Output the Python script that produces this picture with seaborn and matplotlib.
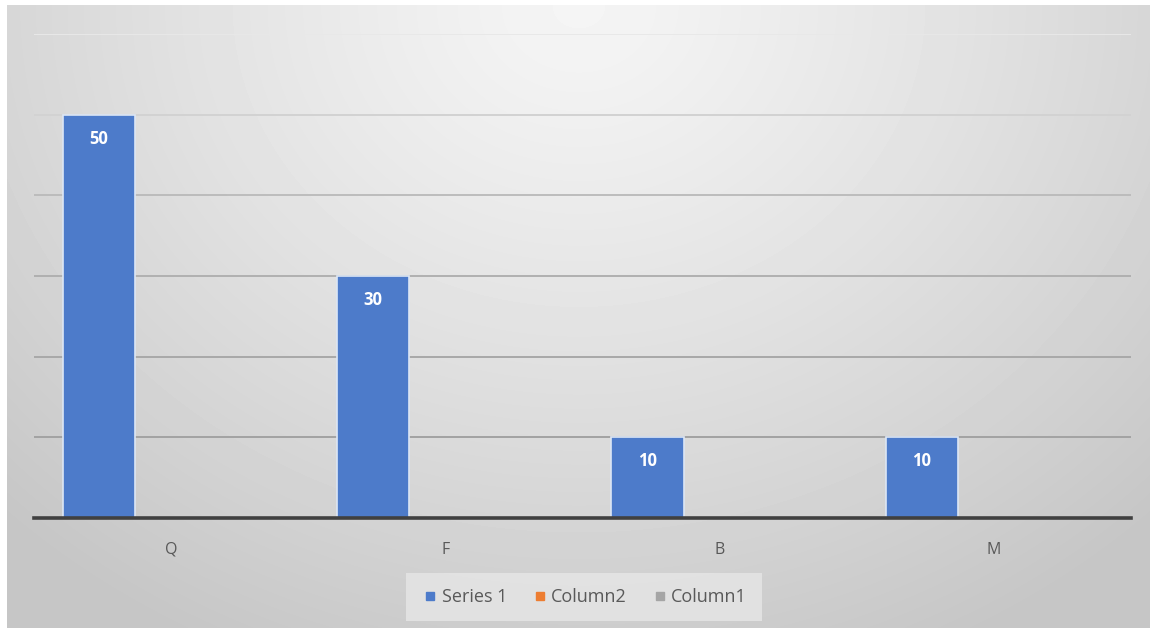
import numpy as np
import pandas as pd
import matplotlib
matplotlib.use("Agg")
import matplotlib.pyplot as plt
import seaborn as sns
from matplotlib.lines import Line2D

# ---- data ----
categories = ["Q", "F", "B", "M"]
series_names = ["Series 1", "Column2", "Column1"]
series_1 = [50, 30, 10, 10]
column2 = [0, 0, 0, 0]
column1 = [0, 0, 0, 0]
y_ticks = [0, 10, 20, 30, 40, 50, 60]

colors = ["#4D7BCA", "#ED7D31", "#A5A5A5"]
grid_colors = {10: "#a2a2a2", 20: "#a8a8a8", 30: "#b0b0b0",
               40: "#bcbcbc", 50: "#d2d2d2", 60: "#e8e8e8"}

df = pd.DataFrame({
    "category": categories * 3,
    "series": np.repeat(series_names, len(categories)),
    "value": series_1 + column2 + column1,
})

sns.set_theme(style="white")
plt.rcParams["font.family"] = ["Open Sans", "DejaVu Sans"]

W, H = 1150, 628
fig = plt.figure(figsize=(W / 100, H / 100), dpi=100, facecolor="white")

# radial gradient chart background
bg = fig.add_axes([7 / W, 0, (W - 7) / W, (H - 5) / H], zorder=0)
gh, gw = H - 5, W - 7
yy, xx = np.mgrid[0:gh, 0:gw]
cx, cy = gw * 0.5, gh * 0.0
r = np.sqrt(((xx - cx) / (gw * 0.72)) ** 2 + ((yy - cy) / (gh * 1.15)) ** 2)
r = np.clip(r, 0, 1)
light, dark = 0.96, 0.775
img = light + (dark - light) * r ** 1.2
bg.imshow(img, cmap="gray", vmin=0, vmax=1, aspect="auto", interpolation="bilinear")
bg.axis("off")

# plot area (shifted slightly left so bars sit at the category slots)
ax = fig.add_axes([34 / W, (H - 518) / H, (1131 - 34) / W, (518 - 34) / H], zorder=1)
ax.patch.set_alpha(0)

for t in y_ticks[1:]:
    ax.axhline(t, color=grid_colors[t], lw=1.4, zorder=0.5)

sns.barplot(data=df, x="category", y="value", hue="series",
            hue_order=series_names, order=categories, palette=colors,
            saturation=1, width=0.79, ax=ax, legend=False, zorder=2)

for i, cont in enumerate(ax.containers):
    for bar in cont:
        if i == 0:
            bar.set_edgecolor("#dce6f5")
            bar.set_linewidth(1.2)
        else:
            bar.set_linewidth(0)

for bar, val in zip(ax.containers[0], series_1):
    ax.annotate(f"{val}", (bar.get_x() + bar.get_width() / 2, bar.get_height()),
                xytext=(0, -24), textcoords="offset pixels",
                ha="center", va="center", color="white",
                fontsize=12, fontweight="bold", zorder=3)

ax.set_ylim(0, 60)
ax.set_xlim(-0.5, len(categories) - 0.5)
ax.set_yticks(y_ticks)
ax.set_yticklabels([])
ax.tick_params(axis="y", length=0)
ax.tick_params(axis="x", length=0, pad=17, labelsize=11.5, labelcolor="#595959")
ax.set_xlabel("")
ax.set_ylabel("")
for s in ["top", "left", "right"]:
    ax.spines[s].set_visible(False)
ax.spines["bottom"].set_color("#404040")
ax.spines["bottom"].set_linewidth(2.6)
ax.spines["bottom"].set_zorder(4)

handles = [Line2D([0], [0], marker="s", linestyle="", markersize=6,
                  markerfacecolor=c, markeredgecolor=c) for c in colors]
leg = fig.legend(handles, series_names, loc="center", bbox_to_anchor=(584 / W, 1 - 597 / H),
                 ncol=3, frameon=True, fontsize=13, handletextpad=0.15,
                 handlelength=1.0, columnspacing=1.3, borderpad=0.55,
                 borderaxespad=0, labelcolor="#595959")
leg.get_frame().set_facecolor("#e4e4e4")
leg.get_frame().set_edgecolor("none")
leg.get_frame().set_alpha(0.9)
leg.get_frame().set_boxstyle("square", pad=0.3)

fig.savefig("out.png", dpi=100, facecolor="white")
